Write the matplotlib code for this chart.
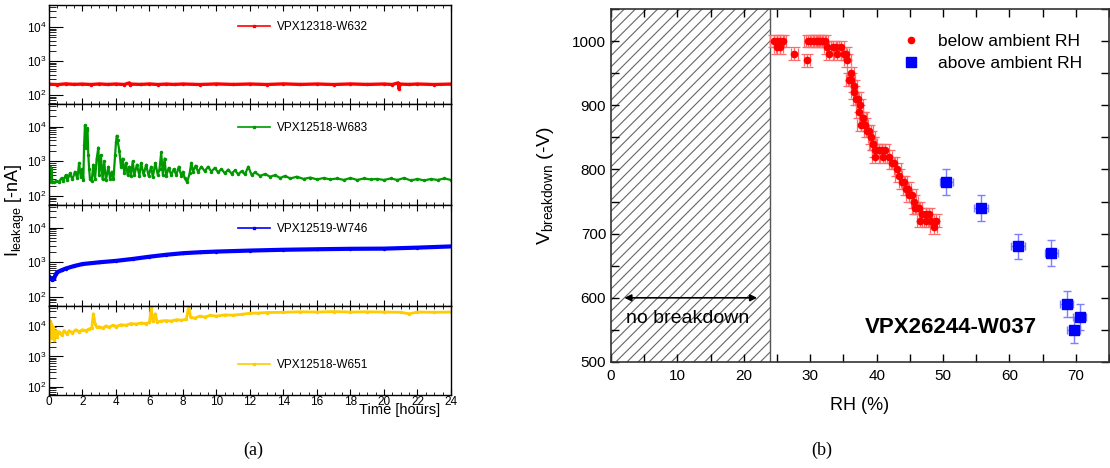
import matplotlib
matplotlib.use("Agg")
import matplotlib.pyplot as plt
from matplotlib.lines import Line2D
from matplotlib.ticker import FixedLocator, MultipleLocator, LogLocator, NullFormatter

plt.rcParams['font.family'] = ['Liberation Sans', 'DejaVu Sans']
plt.rcParams['mathtext.fontset'] = 'custom'
plt.rcParams['mathtext.rm'] = 'Liberation Sans'
plt.rcParams['mathtext.it'] = 'Liberation Sans'
plt.rcParams['hatch.linewidth'] = 0.8

# ---------------- (a) leakage current vs time ----------------
t_red = [0.0, 0.5, 1.0, 1.5, 2.0, 2.5, 3.0, 3.5, 4.0, 4.5, 4.8, 4.85, 4.9, 5.5, 6.0, 6.5, 7.0,
         7.5, 8.0, 9.0, 10.0, 11.0, 12.0, 13.0, 14.0, 15.0, 16.0, 17.0, 18.0, 19.0, 20.0,
         20.5, 20.85, 20.9, 20.95, 21.5, 22.0, 23.0, 24.0]
i_red = [210, 205, 215, 208, 212, 206, 214, 207, 213, 206, 230, 200, 212, 207, 214, 206, 212,
         207, 213, 206, 214, 207, 213, 206, 215, 207, 213, 206, 214, 207, 213,
         206, 230, 150, 212, 207, 213, 206, 212]

t_green = [0.00, 0.05, 0.10, 0.15, 0.20, 0.30, 0.45, 0.60, 0.75, 0.85, 1.00, 1.10, 1.25, 1.40,
           1.55, 1.70, 1.80, 1.90, 2.00, 2.05, 2.10, 2.15, 2.20, 2.25, 2.30, 2.35, 2.40, 2.45,
           2.55, 2.65, 2.75, 2.85, 2.95, 3.00, 3.10, 3.20, 3.30, 3.40, 3.55, 3.65, 3.75, 3.85,
           3.95, 4.00, 4.05, 4.10, 4.20, 4.30, 4.40, 4.50, 4.60, 4.70, 4.80, 4.90, 5.00, 5.10,
           5.25, 5.40, 5.50, 5.65, 5.80, 5.95, 6.10, 6.20, 6.35, 6.50, 6.60, 6.70, 6.80, 6.90,
           7.00, 7.15, 7.30, 7.45, 7.60, 7.75, 7.90, 8.00, 8.10, 8.25, 8.40, 8.50, 8.60, 8.75,
           8.90, 9.10, 9.30, 9.50, 9.70, 9.90, 10.10, 10.30, 10.50, 10.70, 10.90, 11.10, 11.30,
           11.50, 11.70, 11.90, 12.10, 12.30, 12.60, 12.90, 13.20, 13.50, 13.80, 14.10, 14.40,
           14.80, 15.20, 15.60, 16.00, 16.40, 16.80, 17.20, 17.60, 18.00, 18.40, 18.80, 19.20,
           19.60, 20.00, 20.40, 20.80, 21.20, 21.60, 22.00, 22.40, 22.80, 23.20, 23.60, 24.00]
i_green = [260, 700, 300, 600, 260, 250, 270, 260, 330, 270, 400, 280, 450, 300,
           500, 320, 900, 350, 600, 280, 3000, 11000, 2500, 8000, 9000, 1500, 600, 300,
           270, 800, 300, 1200, 2500, 400, 1500, 300, 1000, 280, 700, 300, 500, 300,
           1500, 3500, 5500, 4000, 2000, 700, 1200, 450, 900, 400, 700, 380, 1000, 400,
           800, 380, 900, 400, 800, 380, 700, 350, 900, 400, 600, 1800, 400, 1200,
           380, 650, 400, 600, 400, 700, 380, 500, 330, 250, 450, 900, 500, 750,
           500, 700, 520, 700, 500, 650, 480, 600, 450, 580, 440, 550, 420,
           520, 420, 700, 400, 480, 380, 430, 360, 400, 330, 380, 320,
           360, 310, 340, 300, 330, 300, 320, 290, 330, 290, 320, 300,
           310, 290, 320, 290, 330, 280, 310, 280, 310, 290, 320, 290]

t_blue = [0.0, 0.1, 0.2, 0.3, 0.4, 0.5, 0.75, 1.0, 1.5, 2.0, 3.0, 4.0, 5.0, 6.0, 7.0, 8.0,
          9.0, 10.0, 12.0, 14.0, 16.0, 18.0, 20.0, 22.0, 24.0]
i_blue = [390, 340, 310, 330, 450, 520, 590, 660, 780, 890, 1000, 1100, 1250, 1450, 1650, 1830,
          1950, 2040, 2180, 2300, 2380, 2450, 2480, 2650, 2870]

t_yellow = [0.00, 0.05, 0.10, 0.15, 0.20, 0.25, 0.30, 0.40, 0.50, 0.60, 0.75, 0.90, 1.05, 1.20,
            1.40, 1.60, 1.80, 2.00, 2.20, 2.40, 2.55, 2.65, 2.75, 2.85, 3.00, 3.20, 3.40, 3.60,
            3.80, 4.00, 4.30, 4.60, 4.90, 5.20, 5.50, 5.80, 6.00, 6.10, 6.20, 6.35, 6.45, 6.70,
            7.00, 7.30, 7.60, 7.90, 8.20, 8.35, 8.45, 8.70, 9.00, 9.30, 9.60, 10.00, 10.50,
            11.00, 11.50, 12.00, 12.50, 13.00, 14.00, 15.00, 16.00, 17.00, 18.00, 19.00, 20.00,
            21.00, 21.50, 22.00, 23.00, 24.00]
i_yellow = [3000, 15000, 4000, 12000, 5000, 9000, 3500, 7000, 4500, 6500, 5000, 7000, 5500, 7000,
            6000, 7500, 6500, 7500, 7000, 8000, 8500, 25000, 12000, 9000, 9500, 8500, 10000, 9000,
            10500, 9500, 11000, 10500, 12000, 11500, 12500, 12000, 13000, 42000, 14000, 25000, 13500, 14500,
            15000, 14500, 16000, 15500, 16500, 45000, 19000, 18000, 21000, 19500, 22000, 21000, 23000,
            22500, 24000, 26000, 26500, 27500, 28000, 29000, 28500, 29500, 28500, 29000, 28500,
            28000, 25000, 28500, 28000, 28500]

series = [
    (t_red, i_red, '#ff0000', 'VPX12318-W632', 2.4),
    (t_green, i_green, '#009900', 'VPX12518-W683', 1.6),
    (t_blue, i_blue, '#0000ff', 'VPX12519-W746', 3.0),
    (t_yellow, i_yellow, '#ffcc00', 'VPX12518-W651', 2.0),
]

# ---------------- (b) breakdown voltage vs RH ----------------
rh_below = [24.5, 25.0, 25.5, 25.9, 25.0, 25.4, 27.6, 29.5, 29.6, 29.9,
            30.6, 31.0, 31.4, 31.8, 32.2, 32.6, 32.9, 33.4, 33.9, 34.1,
            34.6, 35.1, 35.4, 35.6, 36.1, 35.9, 36.2, 36.6, 36.6, 36.9,
            37.2, 37.5, 37.4, 37.9, 38.0, 37.6, 38.2, 38.6, 38.9, 39.2,
            39.4, 39.5, 39.8, 39.8, 40.3, 40.8, 41.0, 41.3, 41.8, 42.3,
            42.6, 43.1, 43.3, 43.8, 44.1, 44.4, 44.7, 44.9, 45.4, 45.7,
            46.0, 46.4, 45.8, 46.9, 46.6, 47.4, 47.4, 47.9, 48.2, 48.6, 48.9]
vbd_below = [1000, 1000, 1000, 1000, 990, 990, 980, 970, 1000, 1000,
             1000, 1000, 1000, 1000, 1000, 990, 980, 990, 990, 980,
             990, 980, 980, 970, 950, 940, 940, 930, 920, 910,
             910, 900, 890, 880, 880, 870, 870, 860, 860, 850,
             840, 840, 830, 820, 830, 830, 820, 830, 820, 810,
             810, 800, 790, 780, 780, 770, 770, 760, 760, 750,
             740, 740, 740, 730, 720, 730, 720, 730, 720, 710, 720]

rh_above = [50.5, 55.7, 61.3, 66.3, 68.6, 69.7, 70.6]
vbd_above = [780, 740, 680, 670, 590, 550, 570]

fig = plt.figure(figsize=(11.1, 4.68), dpi=100)

# stacked panels (figure fractions)
left_x, left_w = 0.0441, 0.3622
panel_boxes = [(0.7778, 0.2115), (0.5620, 0.2158), (0.3462, 0.2158), (0.1560, 0.1902)]
legend_y = [0.78, 0.765, 0.762, 0.337]

for k, ((y0, h), (tt, vals, col, name, lw)) in enumerate(zip(panel_boxes, series)):
    ax = fig.add_axes([left_x, y0, left_w, h])
    ax.plot(tt, vals, color=col, lw=lw, marker='.', ms=3)
    ax.set_yscale('log')
    ax.set_ylim(55, 4.5e4)
    ax.set_xlim(0, 24)
    ax.yaxis.set_major_locator(FixedLocator([1e2, 1e3, 1e4]))
    ax.set_yticklabels([r'$10^{2}$', r'$10^{3}$', r'$10^{4}$'])
    ax.yaxis.set_minor_locator(LogLocator(base=10, subs=range(2, 10)))
    ax.yaxis.set_minor_formatter(NullFormatter())
    ax.xaxis.set_major_locator(MultipleLocator(2))
    ax.xaxis.set_minor_locator(MultipleLocator(0.5))
    ax.tick_params(axis='y', which='major', direction='in', length=10, width=0.8,
                   labelsize=8.5, pad=2, right=False)
    ax.tick_params(axis='y', which='minor', direction='in', length=5, width=0.6, right=False)
    ax.tick_params(axis='x', which='major', direction='in', length=4, width=0.8,
                   top=True, labelsize=8.5, pad=1)
    ax.tick_params(axis='x', which='minor', direction='in', length=2, width=0.6, top=True)
    for sp in ax.spines.values():
        sp.set_linewidth(1.0)
    if k < 3:
        ax.tick_params(axis='x', labelbottom=False)
    handle = Line2D([], [], color=col, lw=1.2, marker='s', ms=1.8)
    ax.legend(handles=[handle], labels=[name], loc='center left',
              bbox_to_anchor=(0.47, legend_y[k]), frameon=False, fontsize=8.5,
              handlelength=2.7, handletextpad=0.6, borderpad=0, borderaxespad=0)

fig.text(0.0135, 1 - 210 / 468, r'$\mathrm{I}_{\mathrm{leakage}}$ [-nA]', rotation=90,
         fontsize=13, ha='center', va='center')
fig.text(0.36, 1 - 410 / 468, 'Time [hours]', fontsize=10.5, ha='center', va='center')

# right panel
axb = fig.add_axes([0.5505, 0.2265, 0.4486, 0.7543])
axb.axvspan(0, 24, facecolor='white', edgecolor='#666666', hatch='///', lw=0, zorder=0)
axb.axvline(24, color='#555555', lw=1.0, zorder=1)
axb.errorbar(rh_below, vbd_below, xerr=0.5, yerr=10, fmt='o', color='#ff0000', ms=4.5,
             ecolor='#ff6a6a', elinewidth=0.9, capsize=4, capthick=0.9, zorder=3)
axb.errorbar(rh_above, vbd_above, xerr=1.0, yerr=20, fmt='s', color='#0000ff', ms=7,
             ecolor='#7f7fff', elinewidth=1, capsize=3, capthick=1, zorder=3)
axb.annotate('', xy=(22, 600), xytext=(2, 600),
             arrowprops=dict(arrowstyle='<|-|>', color='black', lw=1.2,
                             mutation_scale=10, shrinkA=0, shrinkB=0))
axb.text(2.2, 568, 'no breakdown', fontsize=14, ha='left', va='center')
axb.text(38.3, 553, 'VPX26244-W037', fontsize=16, fontweight='bold', ha='left', va='center')
axb.set_xlim(0, 75)
axb.set_ylim(500, 1050)
axb.xaxis.set_major_locator(MultipleLocator(10))
axb.xaxis.set_minor_locator(MultipleLocator(5))
axb.yaxis.set_major_locator(MultipleLocator(100))
axb.yaxis.set_minor_locator(MultipleLocator(50))
axb.tick_params(which='both', direction='in', top=True, right=True, width=1.0, labelsize=11)
axb.tick_params(which='major', length=6)
axb.tick_params(which='minor', length=6)
axb.tick_params(axis='x', pad=5)
for sp in axb.spines.values():
    sp.set_linewidth(1.2)
    sp.set_color('#333333')
axb.set_xlabel('RH (%)', fontsize=13, labelpad=10)
axb.set_ylabel(r'$\mathrm{V}_{\mathrm{breakdown}}$ (-V)', fontsize=14, labelpad=12)

legend_handles = [Line2D([], [], ls='none', marker='o', color='#ff0000', ms=4.5),
                  Line2D([], [], ls='none', marker='s', color='#0000ff', ms=7)]
axb.legend(handles=legend_handles, labels=['below ambient RH', 'above ambient RH'],
           loc='upper left', bbox_to_anchor=(0.585, 0.93), frameon=False, fontsize=12.5,
           handlelength=1.0, handletextpad=1.05, labelspacing=0.42, borderpad=0,
           borderaxespad=0)

fig.text(253 / 1110, 1 - 450 / 468, '(a)', fontsize=13, family='Liberation Serif',
         ha='center', va='center')
fig.text(822 / 1110, 1 - 450 / 468, '(b)', fontsize=13, family='Liberation Serif',
         ha='center', va='center')

fig.savefig('out.png', dpi=100)
